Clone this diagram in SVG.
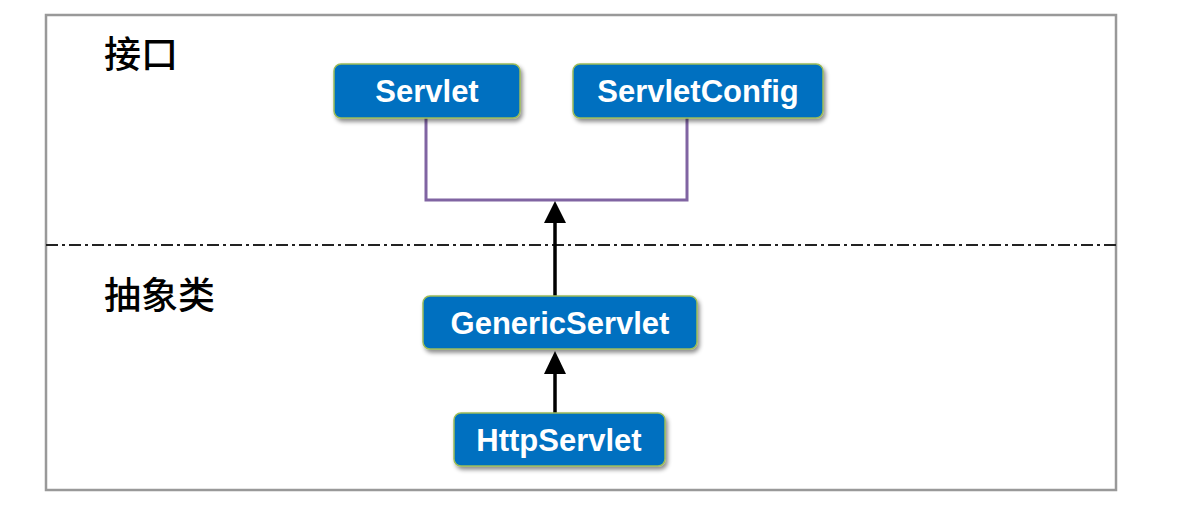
<svg xmlns="http://www.w3.org/2000/svg" width="1196" height="508" viewBox="0 0 1196 508">
<defs>
<filter id="sh" x="-10%" y="-20%" width="130%" height="160%">
<feDropShadow dx="2" dy="3" stdDeviation="2" flood-color="#000" flood-opacity="0.45"/>
</filter>
</defs>
<style>
.node rect{fill:#0070C0;stroke:#9BBB59;stroke-width:1.5;filter:url(#sh)}
.node text{fill:#fff;font-family:"Liberation Sans",Arial,sans-serif;font-weight:bold;font-size:31px;text-anchor:middle}
.lbl{fill:#000;font-family:"Noto Sans CJK SC","Noto Sans",sans-serif;font-size:37px;font-weight:500}
.purple{fill:none;stroke:#8064A2;stroke-width:3}
.inh{fill:none;stroke:#000;stroke-width:3.5}
</style>
<rect x="0" y="0" width="1196" height="508" fill="#fff"/>
<rect x="46" y="15" width="1070" height="475" fill="none" stroke="#999" stroke-width="2.5"/>
<line x1="46" y1="245" x2="1116" y2="245" stroke="#222" stroke-width="2" stroke-dasharray="12 4 3 4"/>
<text class="lbl" x="104" y="68">接口</text>
<text class="lbl" x="104" y="309">抽象类</text>
<g id="connectors">
<path class="purple" d="M426,118 V200 H687 V118"/>
<line class="inh" x1="555" y1="296" x2="555" y2="220"/>
<path d="M544,223 L555,201 L566,223 Z" fill="#000"/>
<line class="inh" x1="555" y1="413" x2="555" y2="372"/>
<path d="M544,374 L555,351 L566,374 Z" fill="#000"/>
</g>
<g id="Servlet" class="node">
<rect x="334" y="64" width="186" height="54" rx="7"/>
<text x="427" y="102">Servlet</text>
</g>
<g id="ServletConfig" class="node">
<rect x="573" y="64" width="250" height="54" rx="7"/>
<text x="698" y="102">ServletConfig</text>
</g>
<g id="GenericServlet" class="node">
<rect x="423" y="296" width="274" height="53" rx="7"/>
<text x="560" y="334">GenericServlet</text>
</g>
<g id="HttpServlet" class="node">
<rect x="454" y="413" width="211" height="53" rx="7"/>
<text x="559" y="451">HttpServlet</text>
</g>
</svg>
